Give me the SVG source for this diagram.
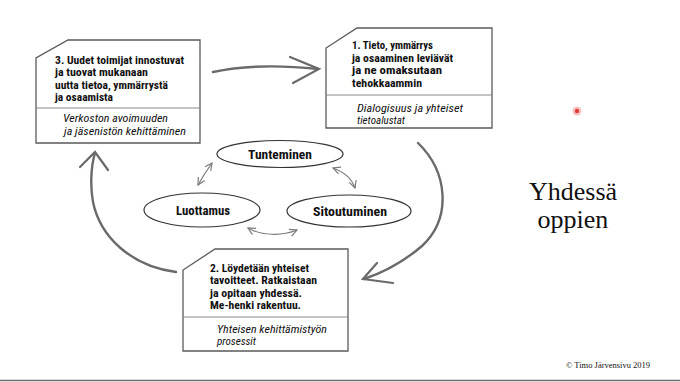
<svg xmlns="http://www.w3.org/2000/svg" width="680" height="382" viewBox="0 0 680 382">
<defs>
<style>
.box{fill:#fff;stroke:#5a5a5a;stroke-width:1.3}
.div{stroke:#8a8a8a;stroke-width:1.2}
.t{font-family:"Liberation Sans Narrow","Roboto Condensed","DejaVu Sans Condensed",sans-serif;font-weight:bold;font-size:11px;fill:#111}
.i{font-family:"Liberation Sans Narrow","Roboto Condensed","DejaVu Sans Condensed",sans-serif;font-style:italic;font-size:11px;fill:#111}
.el{fill:#fff;stroke:#333;stroke-width:1.2}
.et{font-family:"Liberation Sans Narrow","Roboto Condensed","DejaVu Sans Condensed",sans-serif;font-weight:bold;font-size:13px;fill:#111;text-anchor:middle}
.big{fill:none;stroke:#6a6a6a;stroke-width:2.4;stroke-linecap:round;stroke-linejoin:round}
.head{fill:none;stroke:#6a6a6a;stroke-width:2.2;stroke-linecap:round;stroke-linejoin:miter}
.small{fill:none;stroke:#7a7a7a;stroke-width:1.2;marker-start:url(#mh);marker-end:url(#mh)}
.serif{font-family:"Liberation Serif","DejaVu Serif",serif;fill:#111}
</style>
<marker id="mh" viewBox="0 0 10 10" refX="9" refY="5" markerWidth="9" markerHeight="9" markerUnits="userSpaceOnUse" orient="auto-start-reverse">
<path d="M1,1 L9,5 L1,9" fill="none" stroke="#7a7a7a" stroke-width="1.3"/>
</marker>
</defs>
<rect width="680" height="382" fill="#fff"/>

<g id="connectors">
<path class="big" d="M213,72 C250,64 290,66 318,69"/>
<path class="head" d="M290,57 L319,69 L293,83"/>
<path class="big" d="M418,143 C448,172 452,218 422,246 C402,263 382,273 364,279"/>
<path class="head" d="M377,263 L363,279 L393,283"/>
<path class="big" d="M176,272 C130,266 100,236 93,202 C90,186 91,166 95,153"/>
<path class="head" d="M80,167 L95,152 L108,170"/>
<path class="small" d="M198,185 C203,176 207,170 212,163"/>
<path class="small" d="M333,168 C344,172 352,179 355,188"/>
<path class="small" d="M248,228 C262,236 282,236 297,230"/>
</g>

<g id="box3">
<path class="box" d="M68,40 L200,40 L200,143 L36,143 L36,58 Z"/>
<line class="div" x1="36" y1="108" x2="200" y2="108"/>
<text class="t" x="55" y="64" textLength="129" lengthAdjust="spacingAndGlyphs">3. Uudet toimijat innostuvat</text>
<text class="t" x="55" y="76.3" textLength="93" lengthAdjust="spacingAndGlyphs">ja tuovat mukanaan</text>
<text class="t" x="55" y="88.6" textLength="113" lengthAdjust="spacingAndGlyphs">uutta tietoa, ymmärrystä</text>
<text class="t" x="55" y="101" textLength="58" lengthAdjust="spacingAndGlyphs">ja osaamista</text>
<text class="i" x="63" y="122" textLength="105" lengthAdjust="spacingAndGlyphs">Verkoston avoimuuden</text>
<text class="i" x="64" y="135" textLength="122" lengthAdjust="spacingAndGlyphs">ja jäsenistön kehittäminen</text>
</g>

<g id="box1">
<path class="box" d="M357,28 L492,28 L492,128 L326,128 L326,48 Z"/>
<line class="div" x1="326" y1="95" x2="492" y2="95"/>
<text class="t" x="352" y="49" textLength="81" lengthAdjust="spacingAndGlyphs">1. Tieto, ymmärrys</text>
<text class="t" x="352" y="61.5" textLength="101" lengthAdjust="spacingAndGlyphs">ja osaaminen leviävät</text>
<text class="t" x="352" y="74" textLength="90" lengthAdjust="spacingAndGlyphs">ja ne omaksutaan</text>
<text class="t" x="352" y="86.5" textLength="70" lengthAdjust="spacingAndGlyphs">tehokkaammin</text>
<text class="i" x="357" y="111.5" textLength="106" lengthAdjust="spacingAndGlyphs">Dialogisuus ja yhteiset</text>
<text class="i" x="357" y="123.5">tietoalustat</text>
</g>

<g id="box2">
<path class="box" d="M215,249 L348,249 L348,351 L183,351 L183,270 Z"/>
<line class="div" x1="183" y1="317" x2="348" y2="317"/>
<text class="t" x="210" y="272" textLength="99" lengthAdjust="spacingAndGlyphs">2. Löydetään yhteiset</text>
<text class="t" x="210" y="284.3" textLength="107" lengthAdjust="spacingAndGlyphs">tavoitteet. Ratkaistaan</text>
<text class="t" x="210" y="296.6" textLength="92" lengthAdjust="spacingAndGlyphs">ja opitaan yhdessä.</text>
<text class="t" x="210" y="309" textLength="91" lengthAdjust="spacingAndGlyphs">Me-henki rakentuu.</text>
<text class="i" x="217" y="333" textLength="110" lengthAdjust="spacingAndGlyphs">Yhteisen kehittämistyön</text>
<text class="i" x="217" y="345">prosessit</text>
</g>

<g id="tunteminen">
<ellipse class="el" cx="280" cy="154" rx="63" ry="13.5"/>
<text class="et" x="280" y="159" textLength="64" lengthAdjust="spacingAndGlyphs">Tunteminen</text>
</g>
<g id="luottamus">
<ellipse class="el" cx="202" cy="210" rx="58" ry="17"/>
<text class="et" x="203" y="215" textLength="54" lengthAdjust="spacingAndGlyphs">Luottamus</text>
</g>
<g id="sitoutuminen">
<ellipse class="el" cx="349" cy="211" rx="62" ry="16"/>
<text class="et" x="350" y="216" textLength="74" lengthAdjust="spacingAndGlyphs">Sitoutuminen</text>
</g>

<g id="title">
<text class="serif" x="573" y="200" font-size="26" text-anchor="middle">Yhdessä</text>
<text class="serif" x="573" y="228" font-size="26" text-anchor="middle">oppien</text>
</g>
<text class="serif" x="608" y="368" font-size="8.5" text-anchor="middle">© Timo Järvensivu 2019</text>
<circle cx="577" cy="111" r="4.5" fill="#f6b3b3" opacity="0.8"/>
<circle cx="577" cy="111" r="2.2" fill="#e03a3a"/>
<line x1="0" y1="380.5" x2="680" y2="380.5" stroke="#6e6e6e" stroke-width="1.5"/>
</svg>
